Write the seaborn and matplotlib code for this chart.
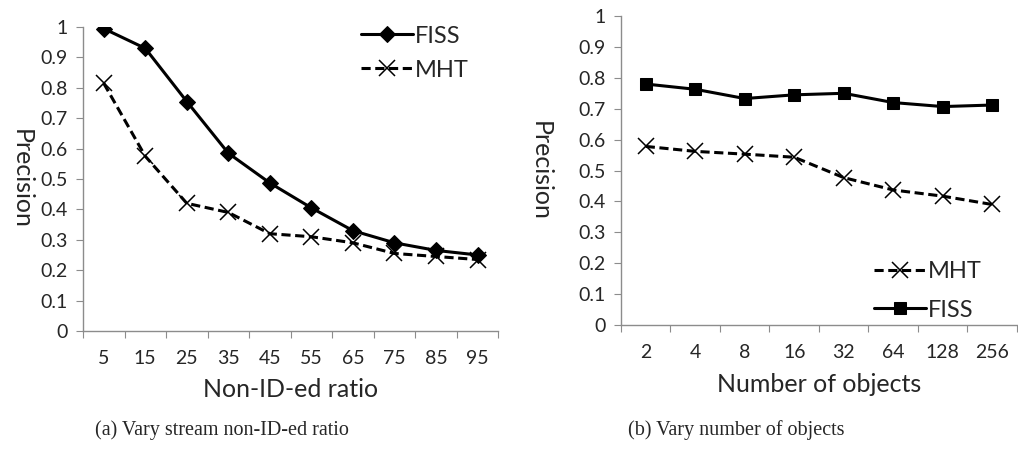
import pandas as pd
import seaborn as sns
import matplotlib.pyplot as plt
import numpy as np

# data
ratios = ["5", "15", "25", "35", "45", "55", "65", "75", "85", "95"]
fiss_ratio = [0.995, 0.93, 0.755, 0.585, 0.487, 0.405, 0.33, 0.29, 0.265, 0.25]
mht_ratio = [0.815, 0.575, 0.42, 0.39, 0.32, 0.31, 0.29, 0.255, 0.245, 0.235]

objects = ["2", "4", "8", "16", "32", "64", "128", "256"]
fiss_obj = [0.78, 0.763, 0.733, 0.745, 0.75, 0.72, 0.707, 0.712]
mht_obj = [0.578, 0.562, 0.553, 0.543, 0.477, 0.437, 0.417, 0.39]

sns.set_style("white")
plt.rcParams['font.family'] = ['Lato', 'DejaVu Sans']

GRAY = "#8c8c8c"
DASH = (0, (3, 1.5))


def make_df(cats, fiss, mht):
    pos = np.arange(len(cats))
    return pd.DataFrame({
        "pos": np.concatenate([pos, pos]),
        "Precision": fiss + mht,
        "Method": ["FISS"] * len(cats) + ["MHT"] * len(cats),
    })


def style_axes(ax, cats, xlabel, ylabelpad):
    n = len(cats)
    ax.set_xlim(-0.5, n - 0.5)
    ax.set_ylim(0, 1)
    ax.set_yticks(np.arange(0, 1.01, 0.1))
    ax.set_yticklabels(["0"] + [f"{v:.1f}" for v in np.arange(0.1, 0.95, 0.1)] + ["1"])
    # boundary ticks, labels in the middle of each category
    ax.set_xticks(np.arange(-0.5, n, 1.0))
    ax.set_xticklabels([])
    ax.set_xticks(np.arange(n), minor=True)
    ax.set_xticklabels(cats, minor=True)
    ax.tick_params(axis="x", which="minor", length=0, pad=14, labelsize=14)
    ax.tick_params(axis="x", which="major", length=5, color=GRAY, direction="out")
    ax.tick_params(axis="y", length=5, color=GRAY, direction="out", labelsize=14, pad=6)
    ax.tick_params(bottom=True, left=True)
    for side in ["top", "right"]:
        ax.spines[side].set_visible(False)
    for side in ["left", "bottom"]:
        ax.spines[side].set_color(GRAY)
        ax.spines[side].set_linewidth(1.0)
    ax.set_xlabel(xlabel, fontsize=18, labelpad=8)
    ax.set_ylabel("Precision", fontsize=18, rotation=270, labelpad=ylabelpad)


fig = plt.figure(figsize=(10.18, 4.59), dpi=100)
ax1 = fig.add_axes([0.0815, 0.279, 0.408, 0.662])
ax2 = fig.add_axes([0.610, 0.292, 0.389, 0.673])

# (a) non-ID-ed ratio
df1 = make_df(ratios, fiss_ratio, mht_ratio)
sns.lineplot(data=df1[df1.Method == "FISS"], x="pos", y="Precision", ax=ax1,
             color="black", linewidth=2.2, marker="D", markersize=8.5,
             markeredgecolor="black", label="FISS")
sns.lineplot(data=df1[df1.Method == "MHT"], x="pos", y="Precision", ax=ax1,
             color="black", linewidth=2.2, linestyle=DASH, marker="x",
             markersize=12, markeredgewidth=1.1, markeredgecolor="black", label="MHT")
style_axes(ax1, ratios, "Non-ID-ed ratio", 22)
ax1.legend(loc="upper right", frameon=False, fontsize=17, handlelength=2.2,
           handletextpad=0.1, labelspacing=0.55, bbox_to_anchor=(0.98, 1.075))

# (b) number of objects
df2 = make_df(objects, fiss_obj, mht_obj)
sns.lineplot(data=df2[df2.Method == "MHT"], x="pos", y="Precision", ax=ax2,
             color="black", linewidth=2.2, linestyle=DASH, marker="x",
             markersize=12, markeredgewidth=1.1, markeredgecolor="black", label="MHT")
sns.lineplot(data=df2[df2.Method == "FISS"], x="pos", y="Precision", ax=ax2,
             color="black", linewidth=2.2, marker="s", markersize=9,
             markeredgecolor="black", label="FISS")
style_axes(ax2, objects, "Number of objects", 36)
ax2.legend(loc="lower right", frameon=False, fontsize=17, handlelength=2.2,
           handletextpad=0.1, labelspacing=0.75, bbox_to_anchor=(0.965, -0.055))

fig.text(0.218, 0.062, "(a) Vary stream non-ID-ed ratio", ha="center", va="center",
         fontsize=14.5, family="Liberation Serif")
fig.text(0.723, 0.062, "(b) Vary number of objects", ha="center", va="center",
         fontsize=14.5, family="Liberation Serif")

plt.savefig("out.png", dpi=100)
